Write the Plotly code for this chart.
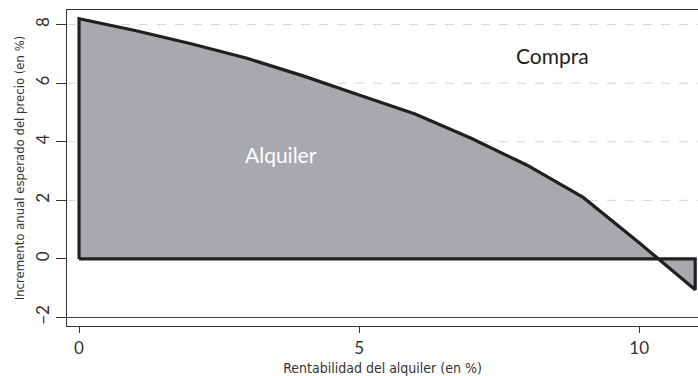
import plotly.graph_objects as go

# rentabilidad del alquiler (%) y umbral de incremento anual del precio (%)
rentabilidad = [0, 1, 2, 3, 4, 5, 6, 7, 8, 9, 10, 11]
incremento = [8.2, 7.8, 7.35, 6.85, 6.25, 5.6, 4.95, 4.12, 3.2, 2.1, 0.55, -1.05]

x_ticks = [0, 5, 10]
y_ticks = [-2, 0, 2, 4, 6, 8]
y_grid = [2, 4, 6, 8]
y_ref = -2

etiquetas = ["Compra", "Alquiler"]
etiqueta_x = [8.45, 3.6]
etiqueta_y = [6.95, 3.55]

narrow = "Liberation Sans Narrow, DejaVu Sans Condensed, Arial Narrow, sans-serif"
tickfont = "Lato, Noto Sans, sans-serif"
dark = "#231f20"

# poligono: curva cerrada contra el eje y=0
xp = [rentabilidad[0]] + rentabilidad + [rentabilidad[-1], rentabilidad[0]]
yp = [0] + incremento + [0, 0]

fig = go.Figure()

for g in y_grid:
    fig.add_hline(y=g, line=dict(color="#d4d4d4", width=1, dash="dash"), layer="below")
fig.add_hline(y=y_ref, line=dict(color="#444444", width=1.2))

fig.add_trace(go.Scatter(
    x=xp, y=yp, mode="lines", fill="toself",
    fillcolor="#a8a9ad", line=dict(color=dark, width=3.2),
    hoverinfo="skip", showlegend=False,
))

fig.add_annotation(x=etiqueta_x[0], y=etiqueta_y[0], text=etiquetas[0], showarrow=False,
                   font=dict(family=tickfont, size=21, color=dark))
fig.add_annotation(x=etiqueta_x[1], y=etiqueta_y[1], text=etiquetas[1], showarrow=False,
                   font=dict(family=tickfont, size=21, color="white"))

fig.update_layout(
    width=698, height=376,
    margin=dict(l=67, r=0, t=10, b=50),
    paper_bgcolor="white", plot_bgcolor="white",
    showlegend=False,
)
fig.update_xaxes(
    range=[-0.215, 11.05], tickvals=x_ticks, ticks="outside", ticklen=6,
    tickcolor="#333333", showgrid=False, zeroline=False,
    showline=True, linecolor="#333333", linewidth=1.2, mirror=True,
    tickfont=dict(family=tickfont, size=17, color="#333333"),
    title=dict(text="Rentabilidad del alquiler (en %)", standoff=6,
               font=dict(family=narrow, size=14, color="#333333")),
)
fig.update_yaxes(
    range=[-2.29, 8.5], tickvals=y_ticks, ticks="outside", ticklen=10,
    tickcolor="#333333", tickangle=-90, showgrid=False, zeroline=False,
    showline=True, linecolor="#333333", linewidth=1.2, mirror=True,
    tickfont=dict(family=tickfont, size=17, color="#333333"),
    title=dict(text="Incremento anual esperado del precio (en %)", standoff=4,
               font=dict(family=narrow, size=13, color="#333333")),
)

# quitar el margen por defecto del body para que la figura llene la ventana
fig.write_html("out.html", config={"displayModeBar": False},
               post_script="document.body.style.margin='0';"
               "document.body.style.overflow='hidden';")
